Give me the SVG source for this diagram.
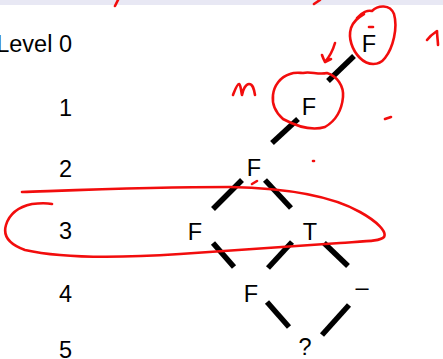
<svg xmlns="http://www.w3.org/2000/svg" width="443" height="359" viewBox="0 0 443 359">
<style>
  text { font-family: "Liberation Sans", Arial, sans-serif; font-size: 23.5px; fill: #000; }
  .lvl { text-anchor: end; }
  .node text { text-anchor: middle; }
  .edge { stroke: #000; stroke-width: 5.5; stroke-linecap: butt; fill: none; }
  .ink { stroke: #f20d0d; stroke-width: 2.6; fill: none; stroke-linecap: round; stroke-linejoin: round; }
</style>
<rect x="0" y="0" width="443" height="359" fill="#ffffff"/>
<rect x="0" y="0" width="443" height="5" fill="#e8e8f4"/>

<g id="levels">
  <text class="lvl" x="72" y="52">Level 0</text>
  <text class="lvl" x="72" y="116">1</text>
  <text class="lvl" x="72" y="177">2</text>
  <text class="lvl" x="72" y="239">3</text>
  <text class="lvl" x="72" y="302">4</text>
  <text class="lvl" x="72" y="358">5</text>
</g>

<g id="connectors">
  <line class="edge" x1="354" y1="56" x2="328" y2="81"/>
  <line class="edge" x1="298" y1="119" x2="272" y2="143"/>
  <line class="edge" x1="242" y1="180" x2="213" y2="209"/>
  <line class="edge" x1="265" y1="180" x2="291" y2="208"/>
  <line class="edge" x1="213" y1="243" x2="234" y2="267"/>
  <line class="edge" x1="292" y1="242" x2="268" y2="268"/>
  <line class="edge" x1="324" y1="243" x2="348" y2="266"/>
  <line class="edge" x1="267" y1="302" x2="289" y2="327"/>
  <line class="edge" x1="349" y1="305" x2="322" y2="335"/>
</g>

<g id="n0" class="node"><text x="369" y="52">F</text></g>
<g id="n1" class="node"><text x="309" y="115">F</text></g>
<g id="n2" class="node"><text x="254" y="176">F</text></g>
<g id="n3a" class="node"><text x="195" y="240">F</text></g>
<g id="n3b" class="node"><text x="310" y="240">T</text></g>
<g id="n4a" class="node"><text x="251" y="302">F</text></g>
<g id="n4b" class="node"><text x="362" y="295">–</text></g>
<g id="n5" class="node"><text x="305" y="355">?</text></g>

<g id="annotations">
  <path class="ink" d="M115,6 L118,0"/>
  <path class="ink" d="M314,4 L320,0"/>
  <path class="ink" d="M357,18 C362,12 368,10 372,11 C378,5 390,4 394,14 C398,28 393,48 385,58 C379,66 368,66 360,58 C352,50 348,38 351,28 C353,22 357,18 364,14"/>
  <path class="ink" d="M369,27 L373,27"/>
  <path class="ink" d="M427,40 C430,36 434,33 437,31 C437,36 438,41 438,45"/>
  <path class="ink" d="M335,43 C333,50 330,56 325,62 M322,55 C323,58 324,60 325,62 C327,61 329,60 331,59"/>
  <path class="ink" d="M303,73 C310,71 318,75 327,73 C337,76 344,86 343,97 C342,108 337,120 325,127 C312,131 296,126 283,119 C275,112 272,103 273,95 C274,86 280,77 290,74 C295,72 300,73 303,73"/>
  <path class="ink" d="M233,95 C235,90 237,84 239,84 C241,85 241,91 242,95 C243,89 246,84 249,84 C253,84 254,89 255,95"/>
  <path class="ink" d="M385,119 L391,117"/>
  <path class="ink" d="M313,161 L314,161"/>
  <path class="ink" d="M252,184 L257,181"/>
  <path class="ink" d="M22,192 C80,190 150,187 230,187 C280,188 330,195 360,212 C378,222 387,232 384,237 C380,241 370,241 340,243 C300,246 250,249 180,254 C120,258 60,258 25,250 C8,244 3,235 6,225 C9,215 18,207 32,204 C40,203 47,203 52,204"/>
</g>
</svg>
